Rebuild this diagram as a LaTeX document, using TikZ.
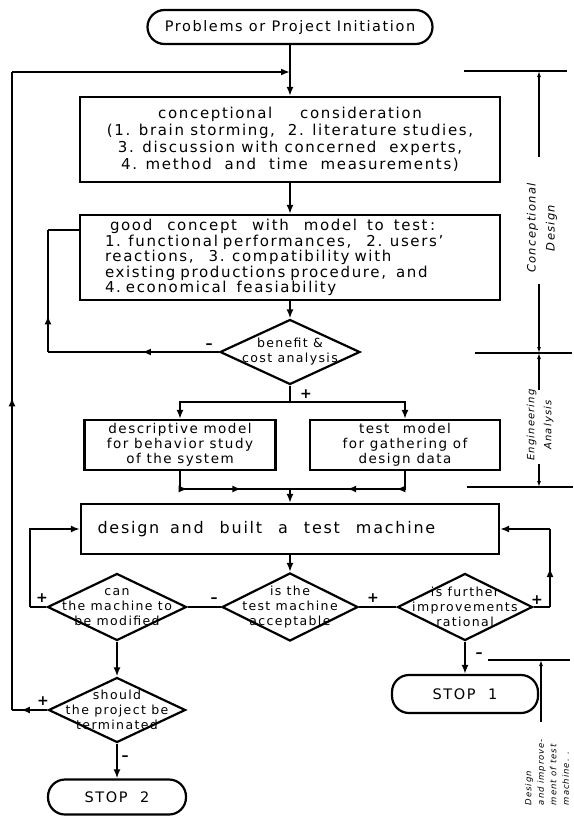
\documentclass[tikz,border=0pt]{standalone}
\usepackage{fontspec}
\setmainfont{DejaVu Sans}[LetterSpace=11]
\usetikzlibrary{shapes.geometric,arrows.meta,decorations.markings}

\tikzset{
  box/.style={draw,line width=2.2pt,inner sep=2pt,font=\fontsize{15}{17}\selectfont},
  term/.style={draw,line width=2.2pt,rounded corners=17pt,font=\fontsize{14.5}{16}\selectfont},
  decision/.style={draw,diamond,line width=2.2pt,inner sep=0pt},
  dtext/.style={align=center,inner sep=0pt,font=\fontsize{12.5}{15}\selectfont},
  line/.style={line width=2.2pt},
  flow/.style={line width=2.2pt,-{Latex[length=9pt,width=7pt]}},
  midarrow/.style={postaction={decorate,decoration={markings,
      mark=at position #1 with {\arrow{Latex[length=9pt,width=7pt]}}}}},
  sign/.style={inner sep=0pt,font=\bfseries\fontsize{14}{14}\selectfont},
  dim/.style={line width=1.1pt},
  side/.style={rotate=90,align=center,inner sep=0pt,font=\itshape\fontsize{11.5}{19}\selectfont}
}

\begin{document}
\begin{tikzpicture}[x=1pt,y=-1pt]
  \useasboundingbox (0,0) rectangle (573,822);

  % main column
  \node[term,minimum width=285pt,minimum height=34pt] (start) at (290,27) {Problems or Project Initiation};
  \node[box,minimum width=420pt,minimum height=85pt,align=center] (cc) at (290,139.5)
    {conceptional\quad\ \ consideration\\(1. brain storming,\ \ 2. literature studies,\\3. discussion with concerned\ \ experts,\\4. method\ \ and\ \ time\ \ measurements)};
  \node[box,minimum width=420pt,minimum height=85pt,text width=370pt,align=left,
        font=\fontsize{15}{15.5}\selectfont] (gc) at (290,257.5)
    {\ good\quad concept\quad with\quad model\ \ to\ \ test\,:\\1. functional performances,\ \ \ 2. users'\\reactions,\ \ \ 3. compatibility with\\existing productions procedure,\ \ and\\4.\ economical\ \ feasiability};
  \node[decision,minimum width=140pt,minimum height=65pt] (bca) at (290,352) {};
  \node[dtext] at (bca) {benefit \&\\cost analysis};

  \node[box,minimum width=191pt,minimum height=50pt,align=center,
        font=\fontsize{13.5}{15}\selectfont] (desc) at (180,445)
    {descriptive model\\for behavior study\\of the system};
  \node[box,minimum width=190pt,minimum height=50pt,align=center,
        font=\fontsize{13.5}{15}\selectfont] (test) at (405,445)
    {test\quad model\\for gathering of\\design data};

  \node[box,minimum width=418pt,minimum height=50pt,text width=385pt,align=left,
        font=\fontsize{16}{17}\selectfont] (db) at (290,529)
    {design\ \ and\ \ \ built\ \ \ a\ \ \ test\ \ \ machine};

  % decisions
  \node[decision,minimum width=139pt,minimum height=67pt] (cm) at (117,607) {};
  \node[dtext] at (cm) {can\\the machine to\\be modified};
  \node[decision,minimum width=136pt,minimum height=68pt] (acc) at (290,607) {};
  \node[dtext] at (acc) {is the\\test machine\\acceptable};
  \node[decision,minimum width=135pt,minimum height=67pt] (imp) at (465,607) {};
  \node[dtext] at (imp) {is further\\improvements\\rational};
  \node[decision,minimum width=137pt,minimum height=65pt] (sp) at (117,710) {};
  \node[dtext] at (sp) {should\\the project be\\terminated};

  \node[term,minimum width=146pt,minimum height=38pt] (stop1) at (465,694) {STOP\ \ 1};
  \node[term,minimum width=138pt,minimum height=35pt] (stop2) at (117,797) {STOP\ \ 2};

  % corners of the loops
  \coordinate (join) at (290,72);
  \coordinate (o1) at (12,710);
  \coordinate (o2) at (12,72);
  \coordinate (f1) at (48,352);
  \coordinate (f2) at (48,230);
  \coordinate (l1) at (30,607);
  \coordinate (r1) at (550,607);
  \coordinate (r2) at (550,529);
  \coordinate (br) at (290,402);
  \coordinate (mg) at (290,489);

  \draw[flow] (start.south) -- (cc.north);
  \draw[flow] (cc.south) -- (gc.north);
  \draw[flow] (gc.south) -- (bca.north);
  \draw[line] (bca.south) -- (br);
  \draw[flow] (br) -| (desc.north);
  \draw[flow] (br) -| (test.north);
  \draw[line,midarrow=0.2,midarrow=0.62] (desc.south) |- (mg);
  \draw[line,midarrow=0.2,midarrow=0.57] (test.south) |- (mg);
  \draw[flow] (mg) -- (db.north);
  \draw[flow] (db.south) -- (acc.north);
  \draw[line] (acc.west) -- (cm.east);
  \draw[line] (acc.east) -- (imp.west);
  \draw[flow] (cm.south) -- (sp.north);
  \draw[flow] (sp.south) -- (stop2.north);
  \draw[flow] (imp.south) -- (stop1.north);

  % feedback loops
  \draw[line,midarrow=0.45] (bca.west) -- (f1);
  \draw[line,midarrow=0.3] (f1) -- (f2);
  \draw[line] (f2) -- (f2 -| gc.west);
  \draw[line,midarrow=0.75] (sp.west) -- (o1);
  \draw[line,midarrow=0.49] (o1) -- (o2);
  \draw[flow] (o2) -- (join);
  \draw[line] (cm.west) -- (l1);
  \draw[flow] (l1) |- (db.west);
  \draw[line] (imp.east) -- (r1);
  \draw[line,midarrow=0.5] (r1) -- (r2);
  \draw[flow] (r2) -- (db.east);

  % signs
  \node[sign] (s1) at (209,346) {--};
  \node[sign] (s2) at (306,394) {+};
  \node[sign] (s3) at (42,598) {+};
  \node[sign] (s4) at (214,600) {--};
  \node[sign] (s5) at (373,598) {+};
  \node[sign] (s6) at (537,600) {+};
  \node[sign] (s7) at (479,655) {--};
  \node[sign] (s8) at (43,701) {+};
  \node[sign] (s9) at (125,758) {--};

  % phases on the right
  \foreach \xa/\xb/\y in {464/567/71, 475/572/353, 467/573/487, 488/570/660}
    \draw[dim] (\xa,\y) -- (\xb,\y);
  \foreach \ya/\yb in {157/71, 284/353, 390/353, 464/487}
    \draw[dim,-{Latex[length=6pt,width=4pt]}] (539,\ya) -- (539,\yb);
  \draw[dim,-{Latex[length=6pt,width=4pt]}] (541,722) -- (541,660);
  \node[side] (cd) at (542,228) {Conceptional\\Design};
  \node[side,font=\itshape\fontsize{10}{17}\selectfont] (ea) at (540,425) {Engineering\\Analysis};
  \node[side,align=left,font=\itshape\fontsize{8.5}{12.5}\selectfont] (di) at (547,772)
    {Design\\and improve-\\ment of test\\machine. .};
\end{tikzpicture}
\end{document}
